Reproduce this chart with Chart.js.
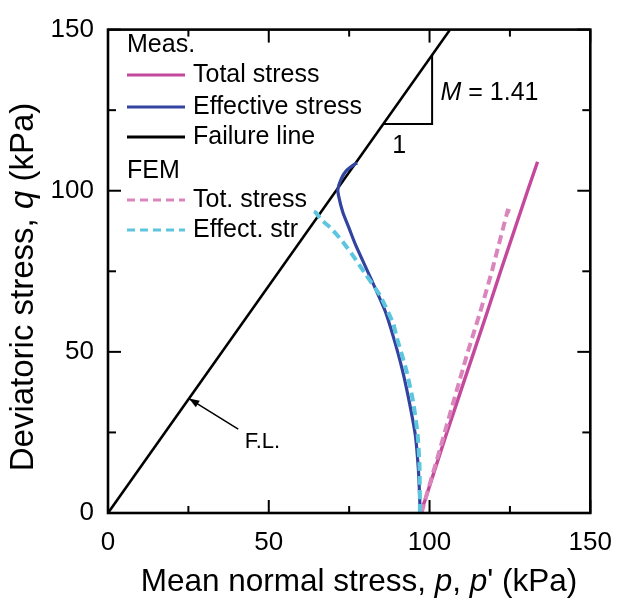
<!DOCTYPE html>
<html>
<head>
<meta charset="utf-8">
<script src="https://cdn.jsdelivr.net/npm/chart.js@4"></script>
<style>
  html, body { margin: 0; padding: 0; background: #fff; }
</style>
</head>
<body>
<canvas id="c" width="626" height="603"></canvas>
<script>
// measured total stress path (p, q)
const measTotalP = [97.2, 98.6, 101.5, 105.4, 109.6, 113.8, 118.0, 122.1, 126.3, 130.5, 133.6];
const measTotalQ = [0, 4, 13, 25, 37.5, 50, 62.5, 75, 87.5, 100, 109];

// measured effective stress path (p', q)
const measEffP = [97.1, 96.8, 96.5, 95.6, 93.7, 91.5, 88.7, 86.1, 81.6, 77.0, 75.0, 73.0, 71.7, 71.5, 72.5, 74.0, 76.5, 77.5];
const measEffQ = [0, 8, 14, 24, 34.5, 44.6, 54.8, 62.9, 73.1, 83.2, 88.3, 93.4, 98.5, 100.5, 103.6, 106.1, 108.1, 108.6];

// FEM total stress path
const femTotalP = [97.5, 99.2, 103.0, 107.0, 111.9, 115.8, 119.4, 122.5, 124.3, 126.3];
const femTotalQ = [0, 6, 19, 33, 50, 62.5, 75, 87, 93.8, 93.2];

// FEM effective stress path
const femEffP = [97.0, 96.9, 96.3, 94.9, 92.7, 89.7, 88.7, 84.6, 80.1, 77.0, 73.0, 68.9, 66.4, 64.5, 63.0];
const femEffQ = [0, 14.1, 24.3, 34.5, 44.6, 54.8, 58.8, 67.5, 74.1, 78.7, 84.2, 88.8, 90.9, 93.3, 94.0];

// failure line q = M p, M = 1.41
const failP = [0, 106.4];
const failQ = [0, 150];

// slope triangle
const triP = [85.6, 100.8, 100.8];
const triQ = [120.7, 120.7, 142.1];

const xTicks = [0, 25, 50, 75, 100, 125, 150];
const yTicks = [0, 25, 50, 75, 100, 125, 150];

const FONT = '"Liberation Sans", Arial, sans-serif';
const pts = (xs, ys) => xs.map((v, i) => ({ x: v, y: ys[i] }));

const cMeasTot = '#c4489c';
const cMeasEff = '#3244a0';
const cFemTot = '#da86bc';
const cFemEff = '#5dc6de';

const legendRows = [
  { head: 'Meas.', y: 45 },
  { text: 'Total stress', color: cMeasTot, dash: [], y: 75 },
  { text: 'Effective stress', color: cMeasEff, dash: [], y: 107 },
  { text: 'Failure line', color: '#000', dash: [], y: 137 },
  { head: 'FEM', y: 171 },
  { text: 'Tot. stress', color: cFemTot, dash: [8, 5], y: 200 },
  { text: 'Effect. str', color: cFemEff, dash: [8, 5], y: 230 }
];

const decor = {
  id: 'decor',
  afterDatasetsDraw(chart) {
    const { ctx, chartArea: a, scales: { x, y } } = chart;
    ctx.save();
    ctx.strokeStyle = '#000';
    ctx.lineWidth = 2;
    const seg = (x1, y1, x2, y2) => { ctx.beginPath(); ctx.moveTo(x1, y1); ctx.lineTo(x2, y2); ctx.stroke(); };
    xTicks.forEach(v => {
      const px = x.getPixelForValue(v);
      const len = v % 50 === 0 ? 13 : 7;
      seg(px, a.bottom, px, a.bottom - len);
      seg(px, a.top, px, a.top + len);
    });
    yTicks.forEach(v => {
      const py = y.getPixelForValue(v);
      const len = v % 50 === 0 ? 13 : 8;
      seg(a.left, py, a.left + len, py);
      seg(a.right, py, a.right - len, py);
    });
    ctx.lineWidth = 2.6;
    ctx.strokeRect(a.left, a.top, a.right - a.left, a.bottom - a.top);

    // legend
    ctx.textBaseline = 'middle';
    ctx.textAlign = 'left';
    ctx.font = '25px ' + FONT;
    ctx.fillStyle = '#000';
    legendRows.forEach(r => {
      if (r.head) { ctx.fillText(r.head, 127, r.y); return; }
      ctx.save();
      ctx.strokeStyle = r.color;
      ctx.lineWidth = 3;
      ctx.setLineDash(r.dash);
      seg(127, r.y, 185, r.y);
      ctx.restore();
      ctx.fillText(r.text, 193, r.y);
    });

    // slope label
    ctx.font = 'italic 25px ' + FONT;
    const mx = x.getPixelForValue(103.4), my = y.getPixelForValue(130.3);
    ctx.fillText('M', mx, my);
    const mw = ctx.measureText('M').width;
    ctx.font = '25px ' + FONT;
    ctx.fillText(' = 1.41', mx + mw, my);
    ctx.textAlign = 'center';
    ctx.fillText('1', x.getPixelForValue(90.6), y.getPixelForValue(113.7));

    // F.L. arrow
    const tx = x.getPixelForValue(25.2), ty = y.getPixelForValue(35.5);
    const sx = x.getPixelForValue(40.5), sy = y.getPixelForValue(26);
    ctx.lineWidth = 1.5;
    seg(sx, sy, tx, ty);
    const ang = Math.atan2(ty - sy, tx - sx);
    ctx.beginPath();
    ctx.moveTo(tx, ty);
    ctx.lineTo(tx - 11 * Math.cos(ang - 0.35), ty - 11 * Math.sin(ang - 0.35));
    ctx.lineTo(tx - 11 * Math.cos(ang + 0.35), ty - 11 * Math.sin(ang + 0.35));
    ctx.closePath();
    ctx.fill();
    ctx.textAlign = 'left';
    ctx.font = '22px ' + FONT;
    ctx.fillText('F.L.', x.getPixelForValue(42.5), y.getPixelForValue(22));

    // axis titles
    const xParts = [['Mean normal stress, ', ''], ['p', 'italic '], [', ', ''], ['p', 'italic '], ["' (kPa)", '']];
    const yParts = [['Deviatoric stress, ', ''], ['q', 'italic '], [' (kPa)', '']];
    const drawParts = (parts, cx, cy, size) => {
      let w = 0;
      parts.forEach(p => { ctx.font = p[1] + size + 'px ' + FONT; w += ctx.measureText(p[0]).width; });
      let cur = cx - w / 2;
      parts.forEach(p => {
        ctx.font = p[1] + size + 'px ' + FONT;
        ctx.fillText(p[0], cur, cy);
        cur += ctx.measureText(p[0]).width;
      });
    };
    drawParts(xParts, 359, 582, 31.5);
    ctx.save();
    ctx.translate(24, 287);
    ctx.rotate(-Math.PI / 2);
    drawParts(yParts, 0, 0, 33);
    ctx.restore();
    ctx.restore();
  }
};

new Chart(document.getElementById('c'), {
  type: 'scatter',
  data: {
    datasets: [
      { data: pts(femEffP, femEffQ), borderColor: cFemEff, borderWidth: 4, borderDash: [9, 5], tension: 0.2 },
      { data: pts(femTotalP, femTotalQ), borderColor: cFemTot, borderWidth: 4, borderDash: [9, 5] },
      { data: pts(measEffP, measEffQ), borderColor: cMeasEff, borderWidth: 3.2, tension: 0.2 },
      { data: pts(measTotalP, measTotalQ), borderColor: cMeasTot, borderWidth: 3.4 },
      { data: pts(triP, triQ), borderColor: '#000', borderWidth: 2 },
      { data: pts(failP, failQ), borderColor: '#000', borderWidth: 2.6 }
    ].map(d => Object.assign({ showLine: true, pointRadius: 0, tension: 0, fill: false }, d))
  },
  options: {
    responsive: false,
    animation: false,
    events: [],
    layout: { padding: { top: 21, right: 24, left: 0, bottom: 0 } },
    plugins: { legend: { display: false }, tooltip: { enabled: false } },
    scales: {
      x: {
        type: 'linear', min: 0, max: 150,
        grid: { display: false, drawTicks: false },
        border: { display: false },
        ticks: { stepSize: 50, padding: 14, color: '#000', font: { size: 26, family: FONT } },
        afterFit: s => { s.height = 90; }
      },
      y: {
        type: 'linear', min: 0, max: 150,
        grid: { display: false, drawTicks: false },
        border: { display: false },
        ticks: { stepSize: 50, padding: 14, color: '#000', font: { size: 26, family: FONT } },
        afterFit: s => { s.width = 108; }
      }
    }
  },
  plugins: [decor]
});
</script>
</body>
</html>
